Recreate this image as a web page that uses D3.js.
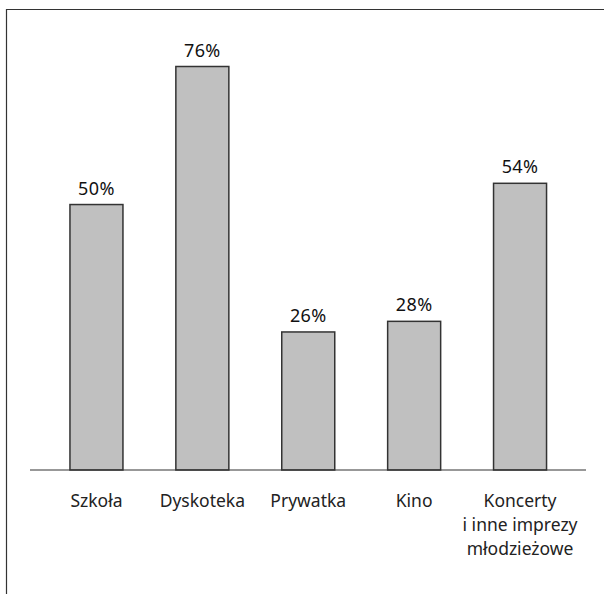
<!DOCTYPE html>
<html><head><meta charset="utf-8">
<script src="https://cdn.jsdelivr.net/npm/d3@7"></script>
<style>body{margin:0;background:#fff}svg{display:block}</style>
</head><body>
<script>
const categories = ["Szkoła", "Dyskoteka", "Prywatka", "Kino", "Koncerty\ni inne imprezy\nmłodzieżowe"];
const values = [50, 76, 26, 28, 54];
const valueLabels = ["50%", "76%", "26%", "28%", "54%"];

const W = 604, H = 594;
const svg = d3.select("body").append("svg").attr("width", W).attr("height", H);
const font = "'Noto Sans', 'Open Sans', sans-serif";

// frame
svg.append("line").attr("x1", 6).attr("x2", W).attr("y1", 9.5).attr("y2", 9.5).attr("stroke", "#333").attr("stroke-width", 1.2);
svg.append("line").attr("x1", 6.5).attr("x2", 6.5).attr("y1", 9).attr("y2", H).attr("stroke", "#333").attr("stroke-width", 1.2);

const x = d3.scaleBand().domain(d3.range(categories.length)).range([43.5, 573]).padding(0);
const y = d3.scaleLinear().domain([0, 76]).range([470, 66.5]);

const bw = x.bandwidth();
const barW = 53;
svg.selectAll("rect.bar").data(values).join("rect")
  .attr("class", "bar")
  .attr("x", (d, i) => x(i) + (bw - barW) / 2)
  .attr("width", barW)
  .attr("y", d => y(d))
  .attr("height", d => y(0) - y(d))
  .attr("fill", "#c0c0c0").attr("stroke", "#333").attr("stroke-width", 1.5);

// baseline
svg.append("line").attr("x1", 30).attr("x2", 586).attr("y1", y(0)).attr("y2", y(0)).attr("stroke", "#333").attr("stroke-width", 1.2);

svg.selectAll("text.val").data(values).join("text")
  .attr("class", "val")
  .attr("x", (d, i) => x(i) + bw / 2)
  .attr("y", d => y(d) - 10)
  .attr("text-anchor", "middle")
  .attr("font-family", font).attr("font-size", 18).attr("fill", "#111")
  .attr("letter-spacing", 0.4)
  .text((d, i) => valueLabels[i]);

const cat = svg.selectAll("text.cat").data(categories).join("text")
  .attr("class", "cat")
  .attr("text-anchor", "middle")
  .attr("font-family", font).attr("font-size", 17.5).attr("fill", "#222");
cat.each(function(d, i) {
  const t = d3.select(this);
  d.split("\n").forEach((line, j) => {
    t.append("tspan").attr("x", x(i) + bw / 2).attr("y", 507 + j * 24).text(line);
  });
});
</script>
</body></html>
